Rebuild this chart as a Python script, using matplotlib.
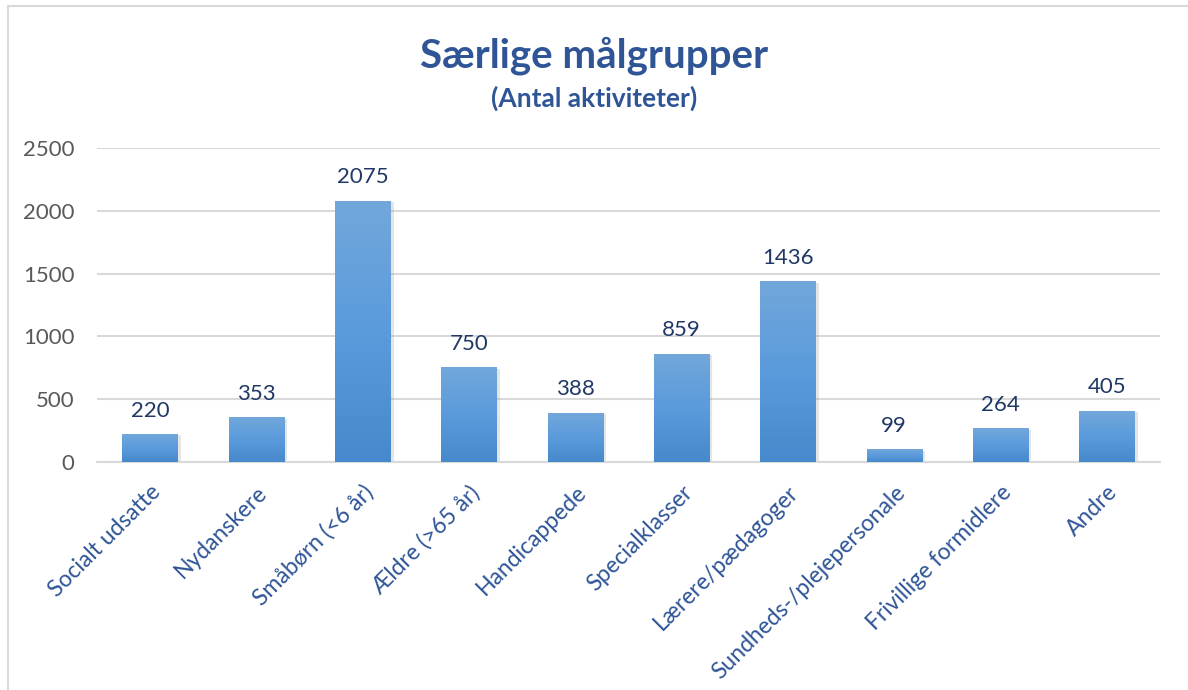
import matplotlib.pyplot as plt
import numpy as np
from matplotlib.colors import LinearSegmentedColormap
from matplotlib.transforms import ScaledTranslation

plt.rcParams['font.family'] = ['Lato', 'DejaVu Sans']

categories = ["Socialt udsatte", "Nydanskere", "Småbørn (<6 år)", "Ældre (>65 år)",
              "Handicappede", "Specialklasser", "Lærere/pædagoger",
              "Sundheds-/plejepersonale", "Frivillige formidlere", "Andre"]
values = [220, 353, 2075, 750, 388, 859, 1436, 99, 264, 405]
yticks = [0, 500, 1000, 1500, 2000, 2500]

fig = plt.figure(figsize=(11.88, 6.90), dpi=100)
ax = fig.add_axes([0.0816, 0.3304, 0.8948, 0.4551])

# chart border (top and left visible)
fig.add_artist(plt.Line2D([0.0065, 1.0], [0.991, 0.991], color="#d9d9d9", lw=1.5))
fig.add_artist(plt.Line2D([0.0065, 0.0065], [0.0, 0.991], color="#d9d9d9", lw=1.5))

x = np.arange(len(categories))
width = 0.52
bars = ax.bar(x, values, width=width, color="none", zorder=3)

cmap = LinearSegmentedColormap.from_list("blue", ["#4689cc", "#5a9bdc", "#72a7da"])
grad = np.linspace(0, 1, 256).reshape(-1, 1)
for b in bars:
    x0, y0 = b.get_x(), b.get_y()
    w, h = b.get_width(), b.get_height()
    # soft shadow
    ax.bar(x0 + w / 2 + 0.02, h, width=w + 0.02, bottom=y0 - 8, color="#9a9a9a",
           alpha=0.25, zorder=2, linewidth=0)
    ax.imshow(grad, extent=(x0, x0 + w, y0, y0 + h), origin="lower", cmap=cmap,
              aspect="auto", zorder=3)

for xi, v in zip(x, values):
    ax.annotate(str(v), (xi, v), xytext=(0, 10), textcoords="offset points",
                ha="center", va="bottom", fontsize=16, color="#1f3864")

ax.set_xlim(-0.5, len(categories) - 0.5)
ax.set_ylim(0, 2500)
ax.set_yticks(yticks)
ax.set_yticklabels([str(t) for t in yticks], fontsize=16, color="#595959")
ax.set_xticks(x)
ax.set_xticklabels(categories, rotation=45, ha="right", rotation_mode="anchor",
                   fontsize=16.5, color="#2f5597")
shift = ScaledTranslation(-12 / 72, 0, fig.dpi_scale_trans)
for lbl in ax.get_xticklabels():
    lbl.set_transform(lbl.get_transform() + shift)
ax.tick_params(axis="both", length=0)
ax.tick_params(axis="y", pad=16)
ax.tick_params(axis="x", pad=14)

ax.grid(axis="y", color="#d9d9d9", lw=1.5, zorder=0)
ax.set_axisbelow(True)
for s in ["top", "right", "left"]:
    ax.spines[s].set_visible(False)
ax.spines["bottom"].set_color("#d9d9d9")
ax.spines["bottom"].set_linewidth(1.5)

fig.text(0.5, 0.92, "Særlige målgrupper", ha="center", va="center",
         fontsize=29, fontweight="bold", color="#2f5597")
fig.text(0.5, 0.857, "(Antal aktiviteter)", ha="center", va="center",
         fontsize=19, fontweight="bold", color="#2f5597")

fig.savefig("out.png", dpi=100)
